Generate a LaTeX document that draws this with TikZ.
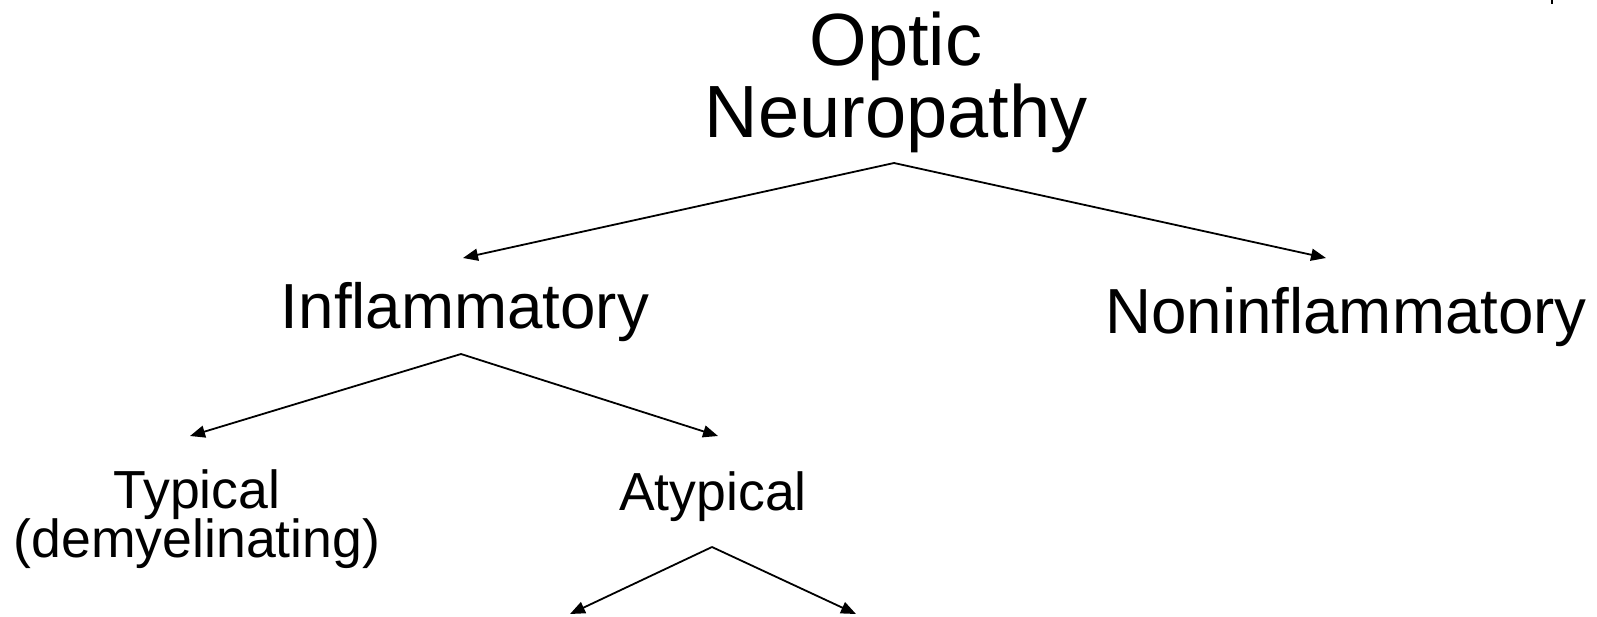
\documentclass[tikz,border=0pt]{standalone}
\usepackage{fontspec}
\setmainfont{Liberation Sans}
\usetikzlibrary{arrows.meta}
\tikzset{
  lbl/.style={inner sep=0pt, anchor=base},
  big/.style={lbl, font=\fontsize{74}{71}\selectfont},
  mid/.style={lbl, font=\fontsize{63.7}{60}\selectfont},
  sml/.style={lbl, font=\fontsize{53.6}{49}\selectfont},
  arr/.style={line width=1.8pt, -{Triangle[length=15pt,width=12pt]}}
}
\begin{document}
\begin{tikzpicture}[x=1pt,y=-1pt]
\useasboundingbox (0,0) rectangle (1597,616);
% labels
\node[big] (optic) at (896,65) {Optic};
\node[big] (neuro) at (896,137.5) {Neuropathy};
\node[mid] (infl) at (465,328) {Inflammatory};
\node[mid] (noninfl) at (1346,333) {Noninflammatory};
\node[sml] (typ) at (197,508) {Typical};
\node[sml] (demy) at (197,557) {(demyelinating)};
\node[sml] (atyp) at (713,510) {Atypical};
% connector ends
\coordinate (neuro-out) at (894,163);
\coordinate (infl-in) at (463,258);
\coordinate (noninfl-in) at (1326,258);
\coordinate (infl-out) at (461,354);
\coordinate (typ-in) at (190,436);
\coordinate (atyp-in) at (718,436);
\coordinate (atyp-out) at (712,547);
\coordinate (leftend) at (570,614);
\coordinate (rightend) at (856,614);
% connectors
\draw[arr] (neuro-out) -- (infl-in);
\draw[arr] (neuro-out) -- (noninfl-in);
\draw[arr] (infl-out) -- (typ-in);
\draw[arr] (infl-out) -- (atyp-in);
\draw[arr] (atyp-out) -- (leftend);
\draw[arr] (atyp-out) -- (rightend);
% small mark top right
\draw[line width=1.5pt] (1552,0) -- (1552,4);
\end{tikzpicture}
\end{document}
